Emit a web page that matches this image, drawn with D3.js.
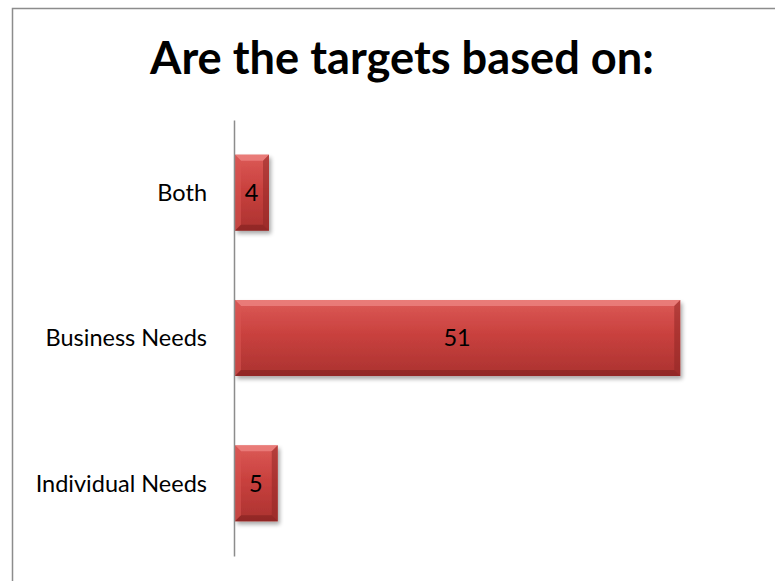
<!DOCTYPE html>
<html>
<head>
<meta charset="utf-8">
<script src="https://cdn.jsdelivr.net/npm/d3@7"></script>
<style>
  html, body { margin: 0; padding: 0; background: #fff; }
  svg { display: block; }
</style>
</head>
<body>
<svg id="chart" width="775" height="581"></svg>
<script>
const categories = ["Both", "Business Needs", "Individual Needs"];
const values = [4, 51, 5];
const title = "Are the targets based on:";
const xDomainMax = 60;

const svg = d3.select("#chart");
const W = 775, H = 581;
const plot = { left: 234, right: 759, top: 120, bottom: 556 };
const FONT = "Lato, 'Open Sans', sans-serif";

const defs = svg.append("defs");
const grad = defs.append("linearGradient").attr("id", "barGrad")
  .attr("x1", 0).attr("y1", 0).attr("x2", 0).attr("y2", 1);
grad.append("stop").attr("offset", "0%").attr("stop-color", "#dc5a57");
grad.append("stop").attr("offset", "45%").attr("stop-color", "#c9413e");
grad.append("stop").attr("offset", "100%").attr("stop-color", "#ab3230");

const shadow = defs.append("filter").attr("id", "shadow")
  .attr("x", "-10%").attr("y", "-10%").attr("width", "130%").attr("height", "140%");
shadow.append("feGaussianBlur").attr("in", "SourceAlpha").attr("stdDeviation", 2.2);
shadow.append("feOffset").attr("dx", 2).attr("dy", 3).attr("result", "ob");
shadow.append("feComponentTransfer").append("feFuncA").attr("type", "linear").attr("slope", 0.35);
const merge = shadow.append("feMerge");
merge.append("feMergeNode");
merge.append("feMergeNode").attr("in", "SourceGraphic");

// background + border
svg.append("rect").attr("width", W).attr("height", H).attr("fill", "#fff");
svg.append("rect").attr("x", 12.5).attr("y", 8.5).attr("width", 900).attr("height", 700)
  .attr("fill", "none").attr("stroke", "#8c8c8c").attr("stroke-width", 1.5);

// title (sized to span the same width as the reference title)
const t = svg.append("text")
  .attr("x", 402).attr("y", 74)
  .attr("text-anchor", "middle")
  .attr("font-family", FONT)
  .attr("font-weight", "bold").attr("font-size", 44)
  .attr("fill", "#000")
  .text(title);
const tw = t.node().getComputedTextLength();
t.attr("font-size", 44 * 504 / tw);

const x = d3.scaleLinear().domain([0, xDomainMax]).range([plot.left, plot.right]);
const y = d3.scaleBand().domain(categories).range([plot.top, plot.bottom])
  .paddingInner(0.477).paddingOuter(0.2385);

const data = categories.map((c, i) => ({ cat: c, val: values[i] }));

const bars = svg.append("g").selectAll("g.bar").data(data).join("g").attr("class", "bar");

bars.append("rect")
  .attr("x", x(0) + 1)
  .attr("y", d => y(d.cat))
  .attr("width", d => x(d.val) - x(0) - 1)
  .attr("height", y.bandwidth())
  .attr("fill", "url(#barGrad)")
  .attr("filter", "url(#shadow)");

// bevel facets
const bv = 6;
bars.each(function(d) {
  const g = d3.select(this);
  const x0 = x(0) + 1, x1 = x(d.val), y0 = y(d.cat), y1 = y0 + y.bandwidth();
  const b = Math.min(bv, (x1 - x0) / 3);
  g.append("path").attr("d", `M${x0},${y0}L${x1},${y0}L${x1-b},${y0+b}L${x0+b},${y0+b}Z`)
    .attr("fill", "#f08a87").attr("opacity", 0.7);
  g.append("path").attr("d", `M${x0},${y0}L${x0+b},${y0+b}L${x0+b},${y1-b}L${x0},${y1}Z`)
    .attr("fill", "#d85552").attr("opacity", 0.55);
  g.append("path").attr("d", `M${x1},${y0}L${x1},${y1}L${x1-b},${y1-b}L${x1-b},${y0+b}Z`)
    .attr("fill", "#8e2624").attr("opacity", 0.5);
  g.append("path").attr("d", `M${x0},${y1}L${x0+b},${y1-b}L${x1-b},${y1-b}L${x1},${y1}Z`)
    .attr("fill", "#7d1f1d").attr("opacity", 0.55);
});

// value labels
bars.append("text")
  .attr("x", d => (x(0) + x(d.val)) / 2)
  .attr("y", d => y(d.cat) + y.bandwidth() / 2)
  .attr("dy", "0.36em")
  .attr("text-anchor", "middle")
  .attr("font-family", FONT)
  .attr("font-size", 23.5)
  .attr("fill", "#000")
  .text(d => d.val);

// category axis
const yAxis = d3.axisLeft(y).tickSize(0).tickPadding(27);
const ag = svg.append("g").attr("transform", `translate(${plot.left},0)`).call(yAxis);
ag.select(".domain").attr("stroke", "#8c8c8c").attr("stroke-width", 1.5);
ag.selectAll("text")
  .attr("font-family", FONT)
  .attr("font-size", 23.5)
  .attr("fill", "#000")
  .attr("dy", "0.36em");
</script>
</body>
</html>
